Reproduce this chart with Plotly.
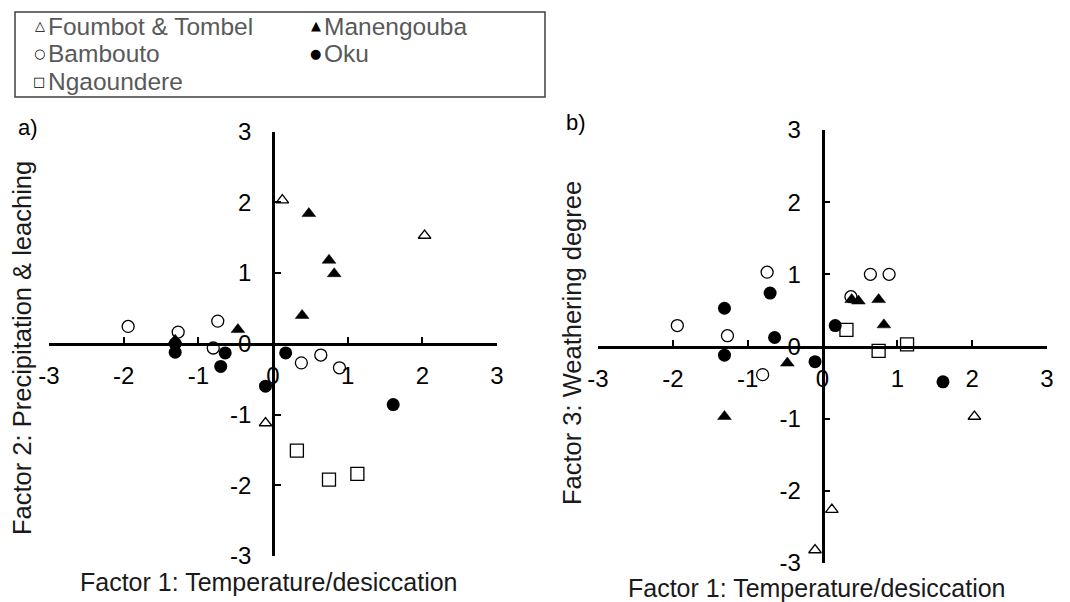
import plotly.graph_objects as go

# ---- data (factor scores) ----
groups = ["Foumbot & Tombel", "Manengouba", "Bambouto", "Oku", "Ngaoundere"]

foumbot_f1 = [0.125, 2.03, -0.10]
foumbot_f2 = [2.03, 1.53, -1.12]
foumbot_f3 = [-2.26, -0.97, -2.82]

manengouba_f1 = [0.48, 0.75, 0.82, 0.39, -0.47, -1.31]
manengouba_f2 = [1.84, 1.18, 0.99, 0.40, 0.20, 0.05]
manengouba_f3 = [0.63, 0.65, 0.30, 0.65, -0.23, -0.97]

bambouto_f1 = [-1.94, -1.27, -0.74, -0.80, 0.38, 0.64, 0.89]
bambouto_f2 = [0.245, 0.165, 0.32, -0.06, -0.27, -0.16, -0.34]
bambouto_f3 = [0.29, 0.15, 1.03, -0.39, 0.69, 1.00, 1.00]

oku_f1 = [-1.31, -1.31, -0.70, -0.64, -0.10, 0.17, 1.61]
oku_f2 = [0.00, -0.12, -0.32, -0.13, -0.60, -0.13, -0.86]
oku_f3 = [0.53, -0.12, 0.74, 0.125, -0.21, 0.29, -0.49]

ngaoundere_f1 = [0.32, 0.75, 1.13]
ngaoundere_f2 = [-1.51, -1.92, -1.84]
ngaoundere_f3 = [0.23, -0.06, 0.03]

tick_vals = [-3, -2, -1, 0, 1, 2, 3]
tick_text = ["-3", "-2", "-1", "0", "1", "2", "3"]

x_title = "Factor 1: Temperature/desiccation"
y_title_a = "Factor 2: Precipitation & leaching"
y_title_b = "Factor 3: Weathering degree"

# ---- styling ----
FONT = "Liberation Sans, Arial, sans-serif"
OFF = 8                      # page body margin of the written html
W, H = 1070 - OFF, 602 - OFF  # figure size so the page fits the window


def X(px):
    return (px - OFF) / W


def Y(py):
    return 1 - (py - OFF) / H


styles = {
    "Foumbot & Tombel": dict(symbol="triangle-up-open", size=11, color="black", line=dict(color="black", width=1.3)),
    "Manengouba": dict(symbol="triangle-up", size=12, color="black", line=dict(color="black", width=0.5)),
    "Bambouto": dict(symbol="circle-open", size=12, color="black", line=dict(color="black", width=1.3)),
    "Oku": dict(symbol="circle", size=13, color="black", line=dict(color="black", width=0)),
    "Ngaoundere": dict(symbol="square-open", size=13, color="black", line=dict(color="black", width=1.3)),
}
legend_glyph = {"Foumbot & Tombel": "△", "Manengouba": "▲", "Bambouto": "○",
                "Oku": "●", "Ngaoundere": "□"}
# legend layout: (text start x, row centre y) in pixels
legend_pos = {"Foumbot & Tombel": (47, 26.5), "Manengouba": (323, 26.5),
              "Bambouto": (47, 54), "Oku": (323, 54), "Ngaoundere": (47, 81.5)}

data = {
    "Foumbot & Tombel": (foumbot_f1, foumbot_f2, foumbot_f3),
    "Manengouba": (manengouba_f1, manengouba_f2, manengouba_f3),
    "Bambouto": (bambouto_f1, bambouto_f2, bambouto_f3),
    "Oku": (oku_f1, oku_f2, oku_f3),
    "Ngaoundere": (ngaoundere_f1, ngaoundere_f2, ngaoundere_f3),
}

fig = go.Figure()
for g in groups:
    f1, f2, f3 = data[g]
    fig.add_trace(go.Scatter(x=f1, y=f2, mode="markers", name=g, xaxis="x", yaxis="y",
                             marker=styles[g], showlegend=False))
for g in groups:
    f1, f2, f3 = data[g]
    fig.add_trace(go.Scatter(x=f1, y=f3, mode="markers", name=g, xaxis="x2", yaxis="y2",
                             marker=styles[g], showlegend=False))

# domains (paper fractions)
xa_dom = [X(49), X(497)]
xb_dom = [X(598), X(1047)]
ya_dom = [Y(556), Y(131.5)]
yb_dom = [Y(563), Y(130)]


def xaxis(dom, ydom):
    return dict(domain=dom, range=[-3, 3], anchor="free", position=(ydom[0] + ydom[1]) / 2,
                showgrid=False, zeroline=False, showline=True, linecolor="black", linewidth=2.5,
                ticks="inside", ticklen=6, tickwidth=2, tickcolor="black",
                tickvals=tick_vals, ticktext=tick_text, ticklabelstandoff=10,
                tickfont=dict(family=FONT, size=24, color="black"), layer="above traces")


def yaxis(dom, xdom):
    return dict(domain=dom, range=[-3, 3], anchor="free", position=(xdom[0] + xdom[1]) / 2,
                showgrid=False, zeroline=False, showline=True, linecolor="black", linewidth=2.5,
                ticks="inside", ticklen=6, tickwidth=2, tickcolor="black",
                tickvals=tick_vals, ticktext=tick_text, ticklabelstandoff=16,
                tickfont=dict(family=FONT, size=24, color="black"), layer="above traces")


annotations = [
    dict(text="a)", x=X(17), y=Y(127), xanchor="left", yanchor="middle",
         font=dict(family=FONT, size=22, color="black")),
    dict(text="b)", x=X(565), y=Y(123), xanchor="left", yanchor="middle",
         font=dict(family=FONT, size=22, color="black")),
    dict(text=x_title, x=X(269), y=Y(582), xanchor="center", yanchor="middle", height=28,
         font=dict(family=FONT, size=25, color="#1a1a1a")),
    dict(text=x_title, x=X(817), y=Y(588), xanchor="center", yanchor="middle", height=28,
         font=dict(family=FONT, size=25, color="#1a1a1a")),
    dict(text=y_title_a, x=X(22), y=Y(348), xanchor="center", yanchor="middle",
         textangle=-90, font=dict(family=FONT, size=25.5, color="#1a1a1a")),
    dict(text=y_title_b, x=X(572), y=Y(343), xanchor="center", yanchor="middle",
         textangle=-90, font=dict(family=FONT, size=25.5, color="#1a1a1a")),
]
for g in groups:
    tx, ty = legend_pos[g]
    annotations.append(dict(text=legend_glyph[g], x=X(tx - 1), y=Y(ty - 1), xanchor="right",
                            yanchor="middle", height=16,
                            font=dict(family="DejaVu Sans", size=13, color="black")))
    annotations.append(dict(text=g, x=X(tx), y=Y(ty), xanchor="left", yanchor="middle",
                            height=27, valign="middle",
                            font=dict(family=FONT, size=24.5, color="#595959")))
for a in annotations:
    a.update(xref="paper", yref="paper", showarrow=False, borderpad=0)

fig.update_layout(
    width=W, height=H,
    margin=dict(l=0, r=0, t=0, b=0, pad=0, autoexpand=False),
    paper_bgcolor="white", plot_bgcolor="white",
    font=dict(family=FONT, color="black"),
    showlegend=False,
    xaxis=xaxis(xa_dom, ya_dom), yaxis=yaxis(ya_dom, xa_dom),
    xaxis2=xaxis(xb_dom, yb_dom), yaxis2=yaxis(yb_dom, xb_dom),
    shapes=[dict(type="rect", xref="paper", yref="paper", x0=X(15), x1=X(545),
                 y0=Y(97), y1=Y(12), line=dict(color="#404040", width=1.5),
                 fillcolor="rgba(0,0,0,0)", layer="below")],
    annotations=annotations,
)

fig.write_html("out.html")
